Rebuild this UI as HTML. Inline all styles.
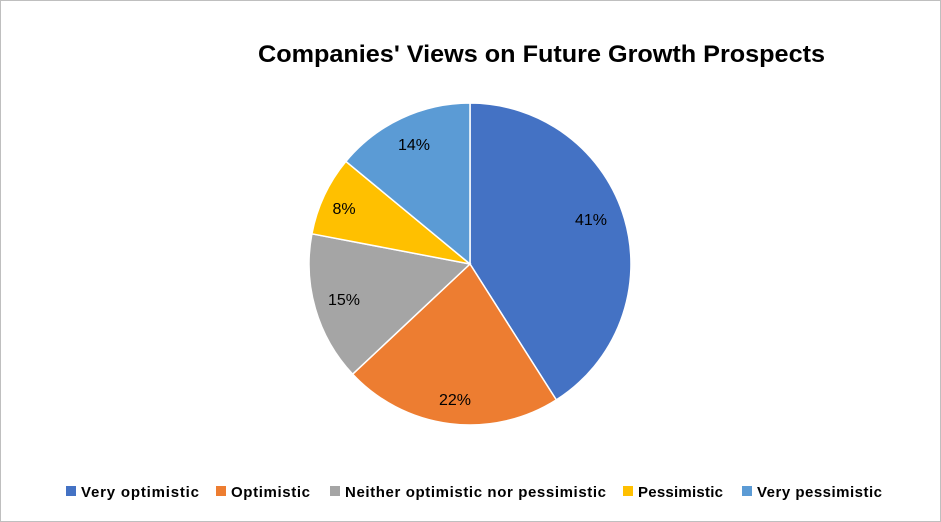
<!DOCTYPE html>
<html><head><meta charset="utf-8"><style>
html,body{margin:0;padding:0;background:#fff;}
svg{display:block;}
</style></head><body>
<svg width="941" height="522" viewBox="0 0 941 522" xmlns="http://www.w3.org/2000/svg" font-family="Liberation Sans, sans-serif">
<rect x="0.5" y="0.5" width="940" height="521" fill="#fff" stroke="#bfbfbf"/>
<text x="258" y="62" textLength="567" lengthAdjust="spacingAndGlyphs" font-size="24" font-weight="bold" fill="#000">Companies' Views on Future Growth Prospects</text>
<g stroke="#fff" stroke-width="1.5">
<path d="M470,264 L470,103 A161,161 0 0 1 556.3,399.9 Z" fill="#4472c4"/>
<path d="M470,264 L556.3,399.9 A161,161 0 0 1 352.6,374.2 Z" fill="#ed7d31"/>
<path d="M470,264 L352.6,374.2 A161,161 0 0 1 311.9,233.8 Z" fill="#a5a5a5"/>
<path d="M470,264 L311.9,233.8 A161,161 0 0 1 345.9,161.4 Z" fill="#ffc000"/>
<path d="M470,264 L345.9,161.4 A161,161 0 0 1 470,103 Z" fill="#5b9bd5"/>
</g>
<g font-size="16" fill="#000" text-anchor="middle">
<text x="591" y="225">41%</text>
<text x="455" y="405">22%</text>
<text x="344" y="305">15%</text>
<text x="344" y="214">8%</text>
<text x="414" y="150">14%</text>
</g>
<g font-size="15" font-weight="bold" fill="#000" lengthAdjust="spacingAndGlyphs">
<rect x="66" y="486" width="10" height="10" fill="#4472c4"/><text x="81" y="497" textLength="118">Very optimistic</text>
<rect x="216" y="486" width="10" height="10" fill="#ed7d31"/><text x="231" y="497" textLength="79">Optimistic</text>
<rect x="330" y="486" width="10" height="10" fill="#a5a5a5"/><text x="345" y="497" textLength="261">Neither optimistic nor pessimistic</text>
<rect x="623" y="486" width="10" height="10" fill="#ffc000"/><text x="638" y="497" textLength="85">Pessimistic</text>
<rect x="742" y="486" width="10" height="10" fill="#5b9bd5"/><text x="757" y="497" textLength="125">Very pessimistic</text>
</g>
</svg>
</body></html>
